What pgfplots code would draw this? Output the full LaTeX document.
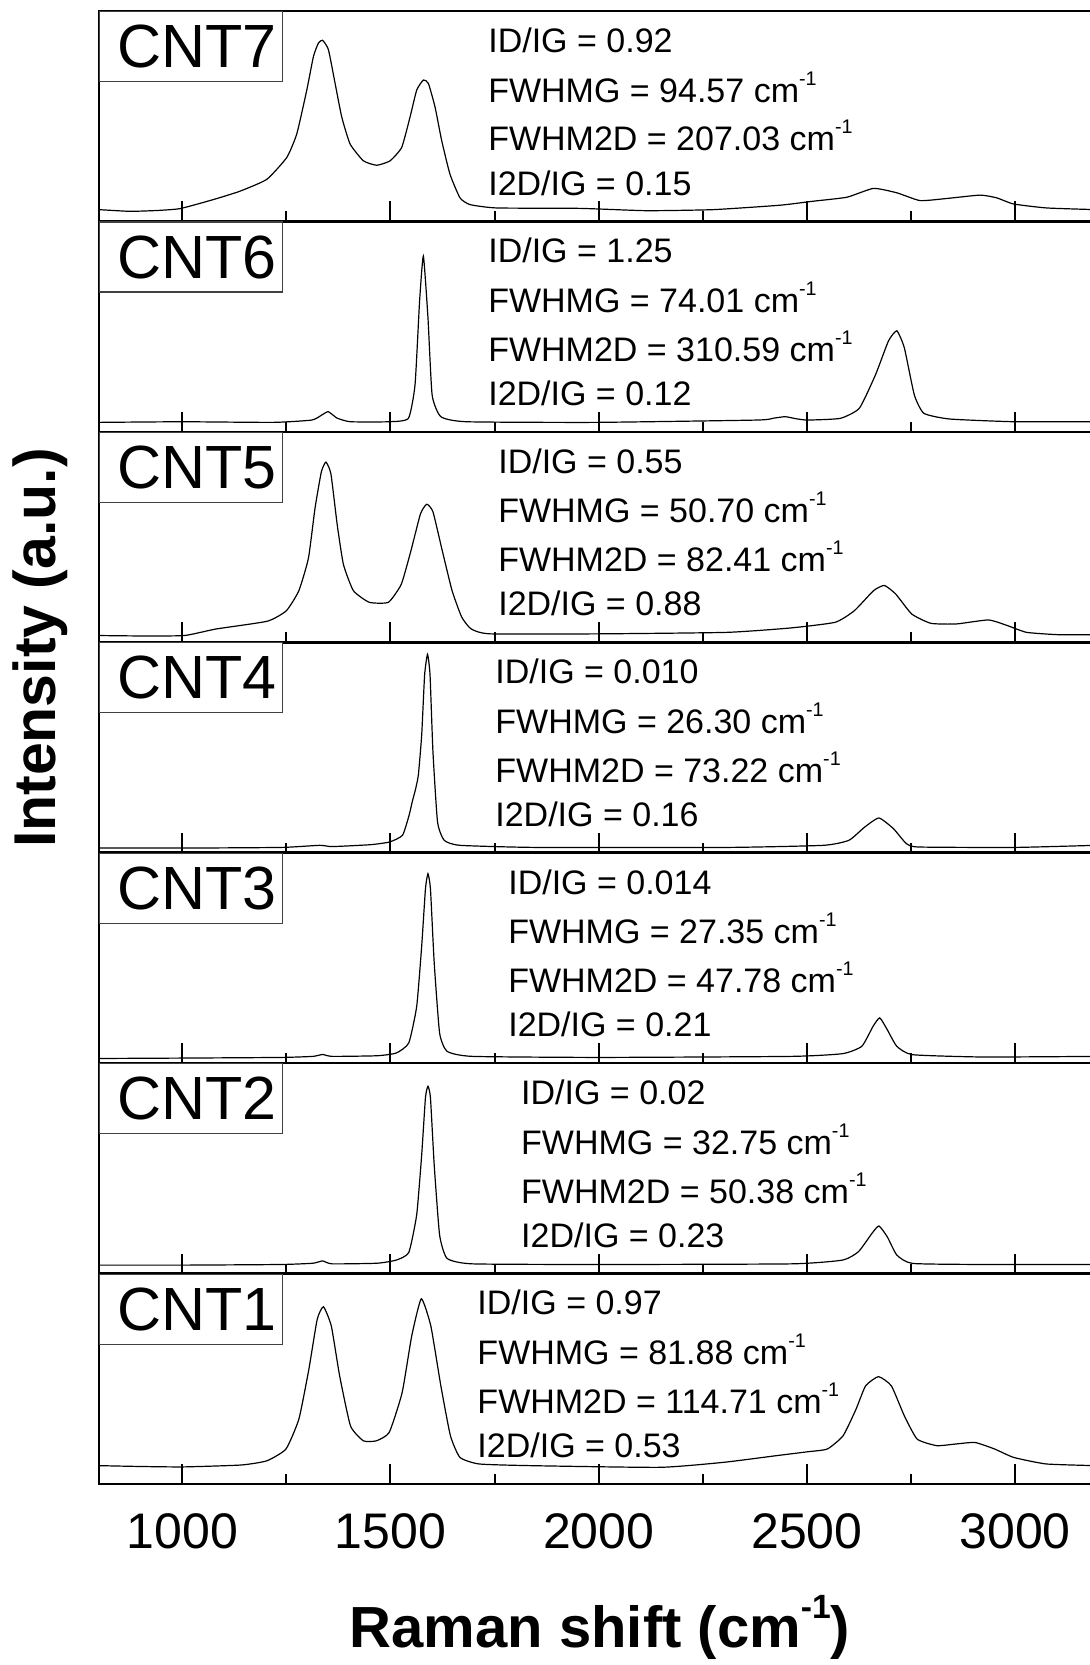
\documentclass[border=0pt]{standalone}
\usepackage{fontspec}
\setmainfont{Liberation Sans}
\usepackage{pgfplots}
\pgfplotsset{compat=1.18}

\newcommand{\sps}[1]{\raisebox{0.5em}{\scalebox{0.58}{#1}}}

\pgfplotsset{
  panel/.style={
    scale only axis, width=498.5pt, height=105.21pt,
    xmin=800, xmax=3194.4, ymin=0, ymax=1,
    anchor=north west,
    xtick={1000,1500,2000,2500,3000},
    minor xtick={1250,1750,2250,2750},
    xtick pos=left,
    tick align=inside,
    major tick length=10pt, minor tick length=5pt,
    major tick style={line width=1pt, black},
    minor tick style={line width=1pt, black},
    ytick=\empty,
    xticklabels={},
    axis line style={line width=1.3pt},
  },
  spec/.style={black, line width=0.6pt, no markers, smooth, tension=0.3},
}
\tikzset{
  anno/.style={anchor=base west, inner sep=0pt, font=\fontsize{17}{20}\selectfont},
  lab/.style={draw=black!75, line width=0.6pt, fill=white, anchor=north west, inner sep=0pt,
    minimum height=35pt, text width=91.5pt, font=\fontsize{30.5}{36}\selectfont},
}
\newcommand{\annot}[5]{%
  \node[anno] at (axis cs:#1,0.803) {ID/IG = #2};
  \node[anno] at (axis cs:#1,0.567) {FWHMG = #3 cm\sps{-1}};
  \node[anno] at (axis cs:#1,0.335) {FWHM2D = #4 cm\sps{-1}};
  \node[anno] at (axis cs:#1,0.125) {I2D/IG = #5};
}

\begin{document}
\begin{tikzpicture}

% CNT7
\begin{axis}[panel, at={(49.5pt,-5.5pt)}]
\addplot[spec] coordinates {(800,0.056)(874,0.048)(940,0.052)(995,0.061)(1075,0.104)(1139,0.144)(1203,0.20)(1251,0.304)(1275,0.416)(1299,0.624)(1315,0.784)(1327,0.848)(1337,0.861)(1351,0.816)(1367,0.656)(1383,0.496)(1403,0.368)(1435,0.288)(1467,0.267)(1499,0.288)(1527,0.352)(1547,0.496)(1563,0.624)(1579,0.672)(1591,0.656)(1607,0.544)(1623,0.384)(1643,0.224)(1667,0.112)(1691,0.08)(1755,0.064)(1955,0.062)(2115,0.051)(2275,0.056)(2435,0.077)(2515,0.096)(2596,0.115)(2660,0.157)(2716,0.136)(2772,0.099)(2836,0.109)(2916,0.125)(2956,0.112)(2996,0.083)(3076,0.064)(3194,0.056)};
\node[lab] at (rel axis cs:0,1) {\hspace*{9pt}CNT7};
\annot{1734}{0.92}{94.57}{207.03}{0.15}
\end{axis}

% CNT6
\begin{axis}[panel, at={(49.5pt,-110.71pt)}]
\addplot[spec] coordinates {(800,0.045)(1002,0.048)(1218,0.045)(1311,0.056)(1335,0.08)(1350,0.096)(1365,0.075)(1373,0.064)(1404,0.048)(1497,0.048)(1543,0.064)(1559,0.224)(1570,0.624)(1579,0.835)(1590,0.544)(1600,0.176)(1621,0.072)(1683,0.048)(1992,0.045)(2379,0.056)(2420,0.065)(2448,0.072)(2475,0.062)(2502,0.056)(2580,0.064)(2626,0.112)(2665,0.272)(2696,0.432)(2716,0.48)(2734,0.40)(2758,0.176)(2781,0.088)(2843,0.061)(2998,0.048)(3194,0.048)};
\node[lab] at (rel axis cs:0,1) {\hspace*{9pt}CNT6};
\annot{1734}{1.25}{74.01}{310.59}{0.12}
\end{axis}

% CNT5
\begin{axis}[panel, at={(49.5pt,-215.92pt)}]
\addplot[spec] coordinates {(800,0.032)(900,0.03)(1005,0.032)(1081,0.063)(1204,0.10)(1250,0.15)(1280,0.245)(1303,0.40)(1319,0.64)(1334,0.81)(1345,0.856)(1357,0.80)(1372,0.56)(1387,0.37)(1411,0.245)(1449,0.19)(1495,0.19)(1526,0.276)(1549,0.434)(1572,0.61)(1587,0.656)(1602,0.62)(1625,0.43)(1648,0.245)(1671,0.12)(1694,0.063)(1740,0.04)(2000,0.04)(2307,0.047)(2461,0.068)(2568,0.095)(2614,0.15)(2660,0.245)(2686,0.27)(2713,0.23)(2752,0.134)(2798,0.09)(2859,0.087)(2936,0.106)(2982,0.079)(3028,0.047)(3104,0.036)(3194,0.036)};
\node[lab] at (rel axis cs:0,1) {\hspace*{9pt}CNT5};
\annot{1758}{0.55}{50.70}{82.41}{0.88}
\end{axis}

% CNT4
\begin{axis}[panel, at={(49.5pt,-321.13pt)}]
\addplot[spec] coordinates {(800,0.022)(1008,0.022)(1238,0.025)(1330,0.035)(1360,0.029)(1452,0.038)(1498,0.051)(1529,0.083)(1545,0.18)(1552,0.24)(1560,0.30)(1567,0.37)(1575,0.56)(1582,0.845)(1589,0.943)(1595,0.845)(1602,0.48)(1613,0.146)(1629,0.059)(1667,0.035)(1850,0.025)(2310,0.025)(2540,0.035)(2601,0.059)(2639,0.122)(2673,0.165)(2708,0.114)(2739,0.043)(2769,0.027)(2999,0.025)(3194,0.035)};
\node[lab] at (rel axis cs:0,1) {\hspace*{9pt}CNT4};
\annot{1751}{0.010}{26.30}{73.22}{0.16}
\end{axis}

% CNT3
\begin{axis}[panel, at={(49.5pt,-426.34pt)}]
\addplot[spec] coordinates {(800,0.022)(1008,0.024)(1238,0.027)(1314,0.032)(1337,0.041)(1360,0.032)(1468,0.035)(1514,0.048)(1544,0.096)(1563,0.27)(1575,0.557)(1584,0.828)(1590,0.90)(1596,0.828)(1605,0.478)(1618,0.143)(1636,0.056)(1697,0.032)(2004,0.027)(2463,0.032)(2586,0.045)(2632,0.08)(2659,0.175)(2675,0.215)(2693,0.159)(2716,0.08)(2754,0.04)(2923,0.029)(3194,0.032)};
\node[lab] at (rel axis cs:0,1) {\hspace*{9pt}CNT3};
\annot{1782}{0.014}{27.35}{47.78}{0.21}
\end{axis}

% CNT2
\begin{axis}[panel, at={(49.5pt,-531.55pt)}]
\addplot[spec] coordinates {(800,0.04)(1008,0.04)(1238,0.043)(1314,0.049)(1337,0.06)(1360,0.046)(1468,0.049)(1514,0.064)(1544,0.10)(1563,0.28)(1575,0.565)(1584,0.836)(1590,0.89)(1596,0.836)(1605,0.517)(1618,0.183)(1636,0.072)(1697,0.046)(2004,0.043)(2463,0.046)(2586,0.064)(2624,0.104)(2656,0.19)(2673,0.226)(2693,0.175)(2716,0.088)(2754,0.048)(2923,0.043)(3194,0.043)};
\node[lab] at (rel axis cs:0,1) {\hspace*{9pt}CNT2};
\annot{1813}{0.02}{32.75}{50.38}{0.23}
\end{axis}

% CNT1
\begin{axis}[panel, at={(49.5pt,-636.76pt)},
  xticklabels={1000,1500,2000,2500,3000},
  xticklabel style={font=\fontsize{25}{30}\selectfont, yshift=-11.5pt}]
\addplot[spec] coordinates {(800,0.087)(900,0.083)(1002,0.081)(1141,0.09)(1203,0.11)(1249,0.166)(1280,0.308)(1304,0.545)(1324,0.782)(1339,0.842)(1358,0.75)(1378,0.513)(1404,0.276)(1435,0.205)(1466,0.205)(1497,0.245)(1528,0.434)(1551,0.703)(1574,0.88)(1597,0.75)(1621,0.466)(1644,0.229)(1667,0.126)(1713,0.095)(1837,0.087)(2147,0.079)(2301,0.103)(2425,0.134)(2502,0.153)(2549,0.166)(2587,0.229)(2618,0.355)(2641,0.466)(2672,0.51)(2703,0.466)(2734,0.324)(2765,0.213)(2812,0.182)(2858,0.19)(2904,0.197)(2951,0.166)(2997,0.126)(3075,0.095)(3194,0.087)};
\node[lab] at (rel axis cs:0,1) {\hspace*{9pt}CNT1};
\annot{1708}{0.97}{81.88}{114.71}{0.53}
\end{axis}

\node[anchor=base, font=\fontsize{29}{34}\selectfont\bfseries] at (300pt,-823.5pt) {Raman shift (cm\sps{-1})};
\node[anchor=base, rotate=90, font=\fontsize{29.5}{34}\selectfont\bfseries] at (27.5pt,-324pt) {Intensity (a.u.)};

\pgfresetboundingbox
\path[use as bounding box] (0pt,0pt) rectangle (545pt,-832.5pt);
\end{tikzpicture}
\end{document}
